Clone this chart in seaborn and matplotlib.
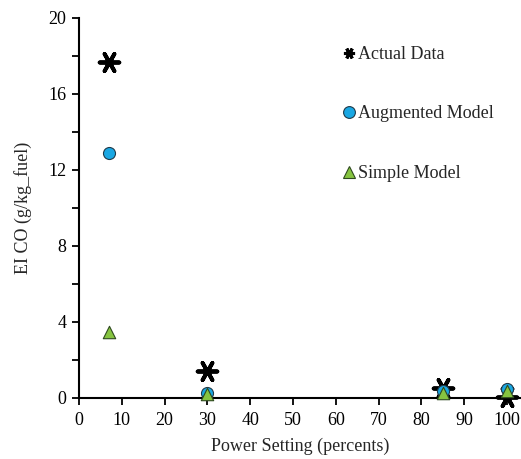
import matplotlib
matplotlib.use("Agg")
import matplotlib.pyplot as plt
import seaborn as sns
import pandas as pd
from matplotlib.ticker import MultipleLocator
from matplotlib.lines import Line2D

power = [7, 30, 85, 100]
actual = [17.7, 1.4, 0.55, 0.05]
augmented = [12.9, 0.26, 0.35, 0.45]
simple = [3.5, 0.22, 0.25, 0.38]
series_names = ["Actual Data", "Augmented Model", "Simple Model"]

sns.set_style("ticks")
plt.rcParams['font.family'] = ['Liberation Serif', 'DejaVu Serif']

fig = plt.figure(figsize=(5.21, 4.59), dpi=100)
ax = fig.add_axes([79/521, 1-398/459, (521-79)/521, (398-18)/459])

df_a = pd.DataFrame({"x": power, "y": actual})
df_b = pd.DataFrame({"x": power, "y": augmented})
df_c = pd.DataFrame({"x": power, "y": simple})

star = (6, 2, 90)
blue = "#19A7E3"
green = "#86C440"
sns.scatterplot(data=df_a, x="x", y="y", ax=ax, marker=star, s=200,
                color="black", linewidth=2.8, legend=False, zorder=3, clip_on=False)
sns.scatterplot(data=df_b, x="x", y="y", ax=ax, marker="o", s=75,
                color=blue, edgecolor="#1f3a4a", linewidth=0.8,
                legend=False, zorder=4, clip_on=False)
sns.scatterplot(data=df_c, x="x", y="y", ax=ax, marker="^", s=80,
                color=green, edgecolor="#2f4a1f", linewidth=0.8,
                legend=False, zorder=5, clip_on=False)

ax.set_xlim(0, 103.3)
ax.set_ylim(0, 20)
ax.xaxis.set_major_locator(MultipleLocator(10))
ax.yaxis.set_major_locator(MultipleLocator(4))
ax.yaxis.set_minor_locator(MultipleLocator(2))
ax.tick_params(axis='both', which='both', direction='out', length=5, width=1.3,
               labelsize=13, colors='black')
ax.tick_params(axis='x', pad=5)
ax.tick_params(axis='y', pad=4)
for sp in ['left', 'bottom']:
    ax.spines[sp].set_linewidth(1.5)
    ax.spines[sp].set_color('black')
sns.despine(ax=ax)

ax.set_xlabel("Power Setting (percents)", fontsize=13, labelpad=6)
ax.set_ylabel("EI CO (g/kg_fuel)", fontsize=13, labelpad=12)

handles = [
    Line2D([], [], linestyle='none', marker=star, markersize=8, color='black',
           markeredgewidth=2.2),
    Line2D([], [], linestyle='none', marker='o', markersize=8.5, markerfacecolor=blue,
           markeredgecolor="#1f3a4a", markeredgewidth=0.8),
    Line2D([], [], linestyle='none', marker='^', markersize=9, markerfacecolor=green,
           markeredgecolor="#2f4a1f", markeredgewidth=0.8),
]
leg = ax.legend(handles, series_names, loc='upper left',
                bbox_to_anchor=((340-79)/442, 1-(46-18)/380), frameon=False,
                fontsize=13, labelspacing=2.35, handletextpad=0.0,
                handlelength=1.0, borderpad=0, borderaxespad=0)

fig.savefig("out.png", dpi=100)
